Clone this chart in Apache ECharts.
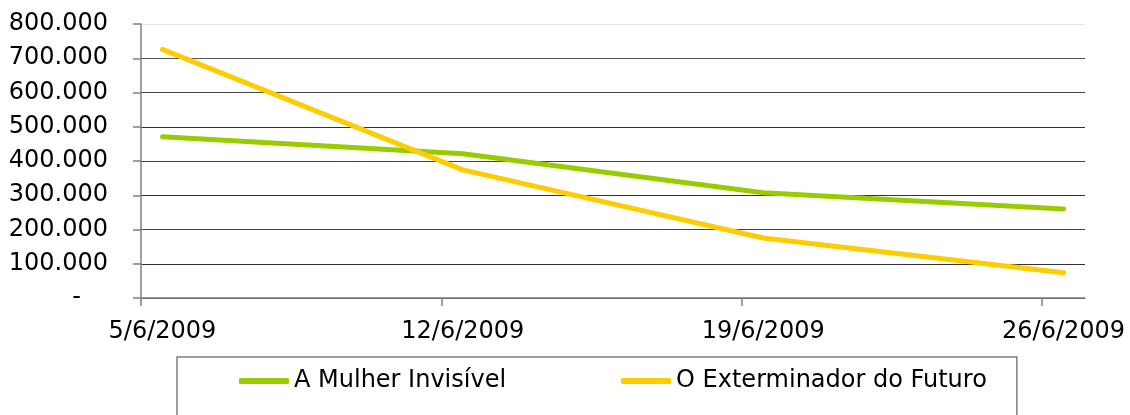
<!DOCTYPE html>
<html>
<head>
<meta charset="utf-8">
<script src="https://cdn.jsdelivr.net/npm/echarts@6/dist/echarts.min.js"></script>
<style>html,body{margin:0;padding:0;background:#fff}#c{width:1130px;height:415px}</style>
</head>
<body>
<div id="c"></div>
<script>
var dates = ['2009-06-05', '2009-06-12', '2009-06-19', '2009-06-26'];
var seriesNames = ['A Mulher Invisível', 'O Exterminador do Futuro'];
var mulherInvisivel = [471000, 421000, 307000, 260000];
var exterminador = [726000, 374000, 175000, 74000];
var yTicks = [0, 100000, 200000, 300000, 400000, 500000, 600000, 700000, 800000];

function ts(s, hours) {
  var p = s.split('-');
  return new Date(+p[0], +p[1] - 1, +p[2], hours || 0).getTime();
}
var DAY = 86400000;
var tickVals = dates.map(function (d) { return ts(d, 0); });
var labelVals = dates.map(function (d) { return ts(d, 12); });
var xMin = tickVals[0];
var xMax = tickVals[tickVals.length - 1] + DAY;

function pairs(vals) {
  return vals.map(function (v, i) { return [labelVals[i], v]; });
}
function fmtThousands(v) {
  return String(v).replace(/\B(?=(\d{3})+(?!\d))/g, '.');
}

var font = 'DejaVu Sans';
var chart = echarts.init(document.getElementById('c'));
chart.setOption({
  animation: false,
  backgroundColor: '#fff',
  grid: { left: 141, right: 45, top: 24, bottom: 117, containLabel: false },
  xAxis: {
    type: 'value',
    min: xMin,
    max: xMax,
    axisLine: { show: true, lineStyle: { color: '#808080', width: 1.5 } },
    axisTick: { show: true, length: 8, customValues: tickVals, lineStyle: { color: '#808080', width: 1.5 } },
    splitLine: { show: false },
    axisLabel: {
      customValues: labelVals,
      margin: 22,
      color: '#000',
      fontFamily: font,
      fontSize: 24,
      formatter: function (v) {
        var d = new Date(v);
        return d.getDate() + '/' + (d.getMonth() + 1) + '/' + d.getFullYear();
      }
    }
  },
  yAxis: {
    type: 'value',
    min: yTicks[0],
    max: yTicks[yTicks.length - 1],
    interval: yTicks[1] - yTicks[0],
    axisLine: { show: true, lineStyle: { color: '#808080', width: 1.5 } },
    axisTick: { show: true, length: 8, lineStyle: { color: '#808080', width: 1.5 } },
    splitLine: {
      show: true,
      lineStyle: {
        color: ['#333', '#333', '#444', '#333', '#444', '#333', '#444', '#555', '#e6e6e6'],
        width: 1
      }
    },
    axisLabel: {
      margin: 33,
      color: '#000',
      fontFamily: font,
      fontSize: 24,
      formatter: function (v) {
        return v === 0 ? '{d|-}' : fmtThousands(v);
      },
      rich: {
        d: { fontFamily: font, fontSize: 24, color: '#000', padding: [0, 27, 0, 0] }
      }
    }
  },
  legend: {
    left: 177,
    top: 357,
    orient: 'horizontal',
    borderColor: '#7f7f7f',
    borderWidth: 1.5,
    padding: [12, 30, 40, 62],
    itemGap: 115,
    itemWidth: 50,
    itemHeight: 6,
    icon: 'roundRect',
    textStyle: { color: '#000', fontFamily: font, fontSize: 24 },
    data: seriesNames
  },
  series: [
    {
      name: seriesNames[0],
      type: 'line',
      data: pairs(mulherInvisivel),
      showSymbol: false,
      symbol: 'none',
      lineStyle: { color: '#99CC00', width: 5, cap: 'round', join: 'round' },
      itemStyle: { color: '#99CC00' }
    },
    {
      name: seriesNames[1],
      type: 'line',
      data: pairs(exterminador),
      showSymbol: false,
      symbol: 'none',
      lineStyle: { color: '#FFCC00', width: 5, cap: 'round', join: 'round' },
      itemStyle: { color: '#FFCC00' }
    }
  ]
});
</script>
</body>
</html>
